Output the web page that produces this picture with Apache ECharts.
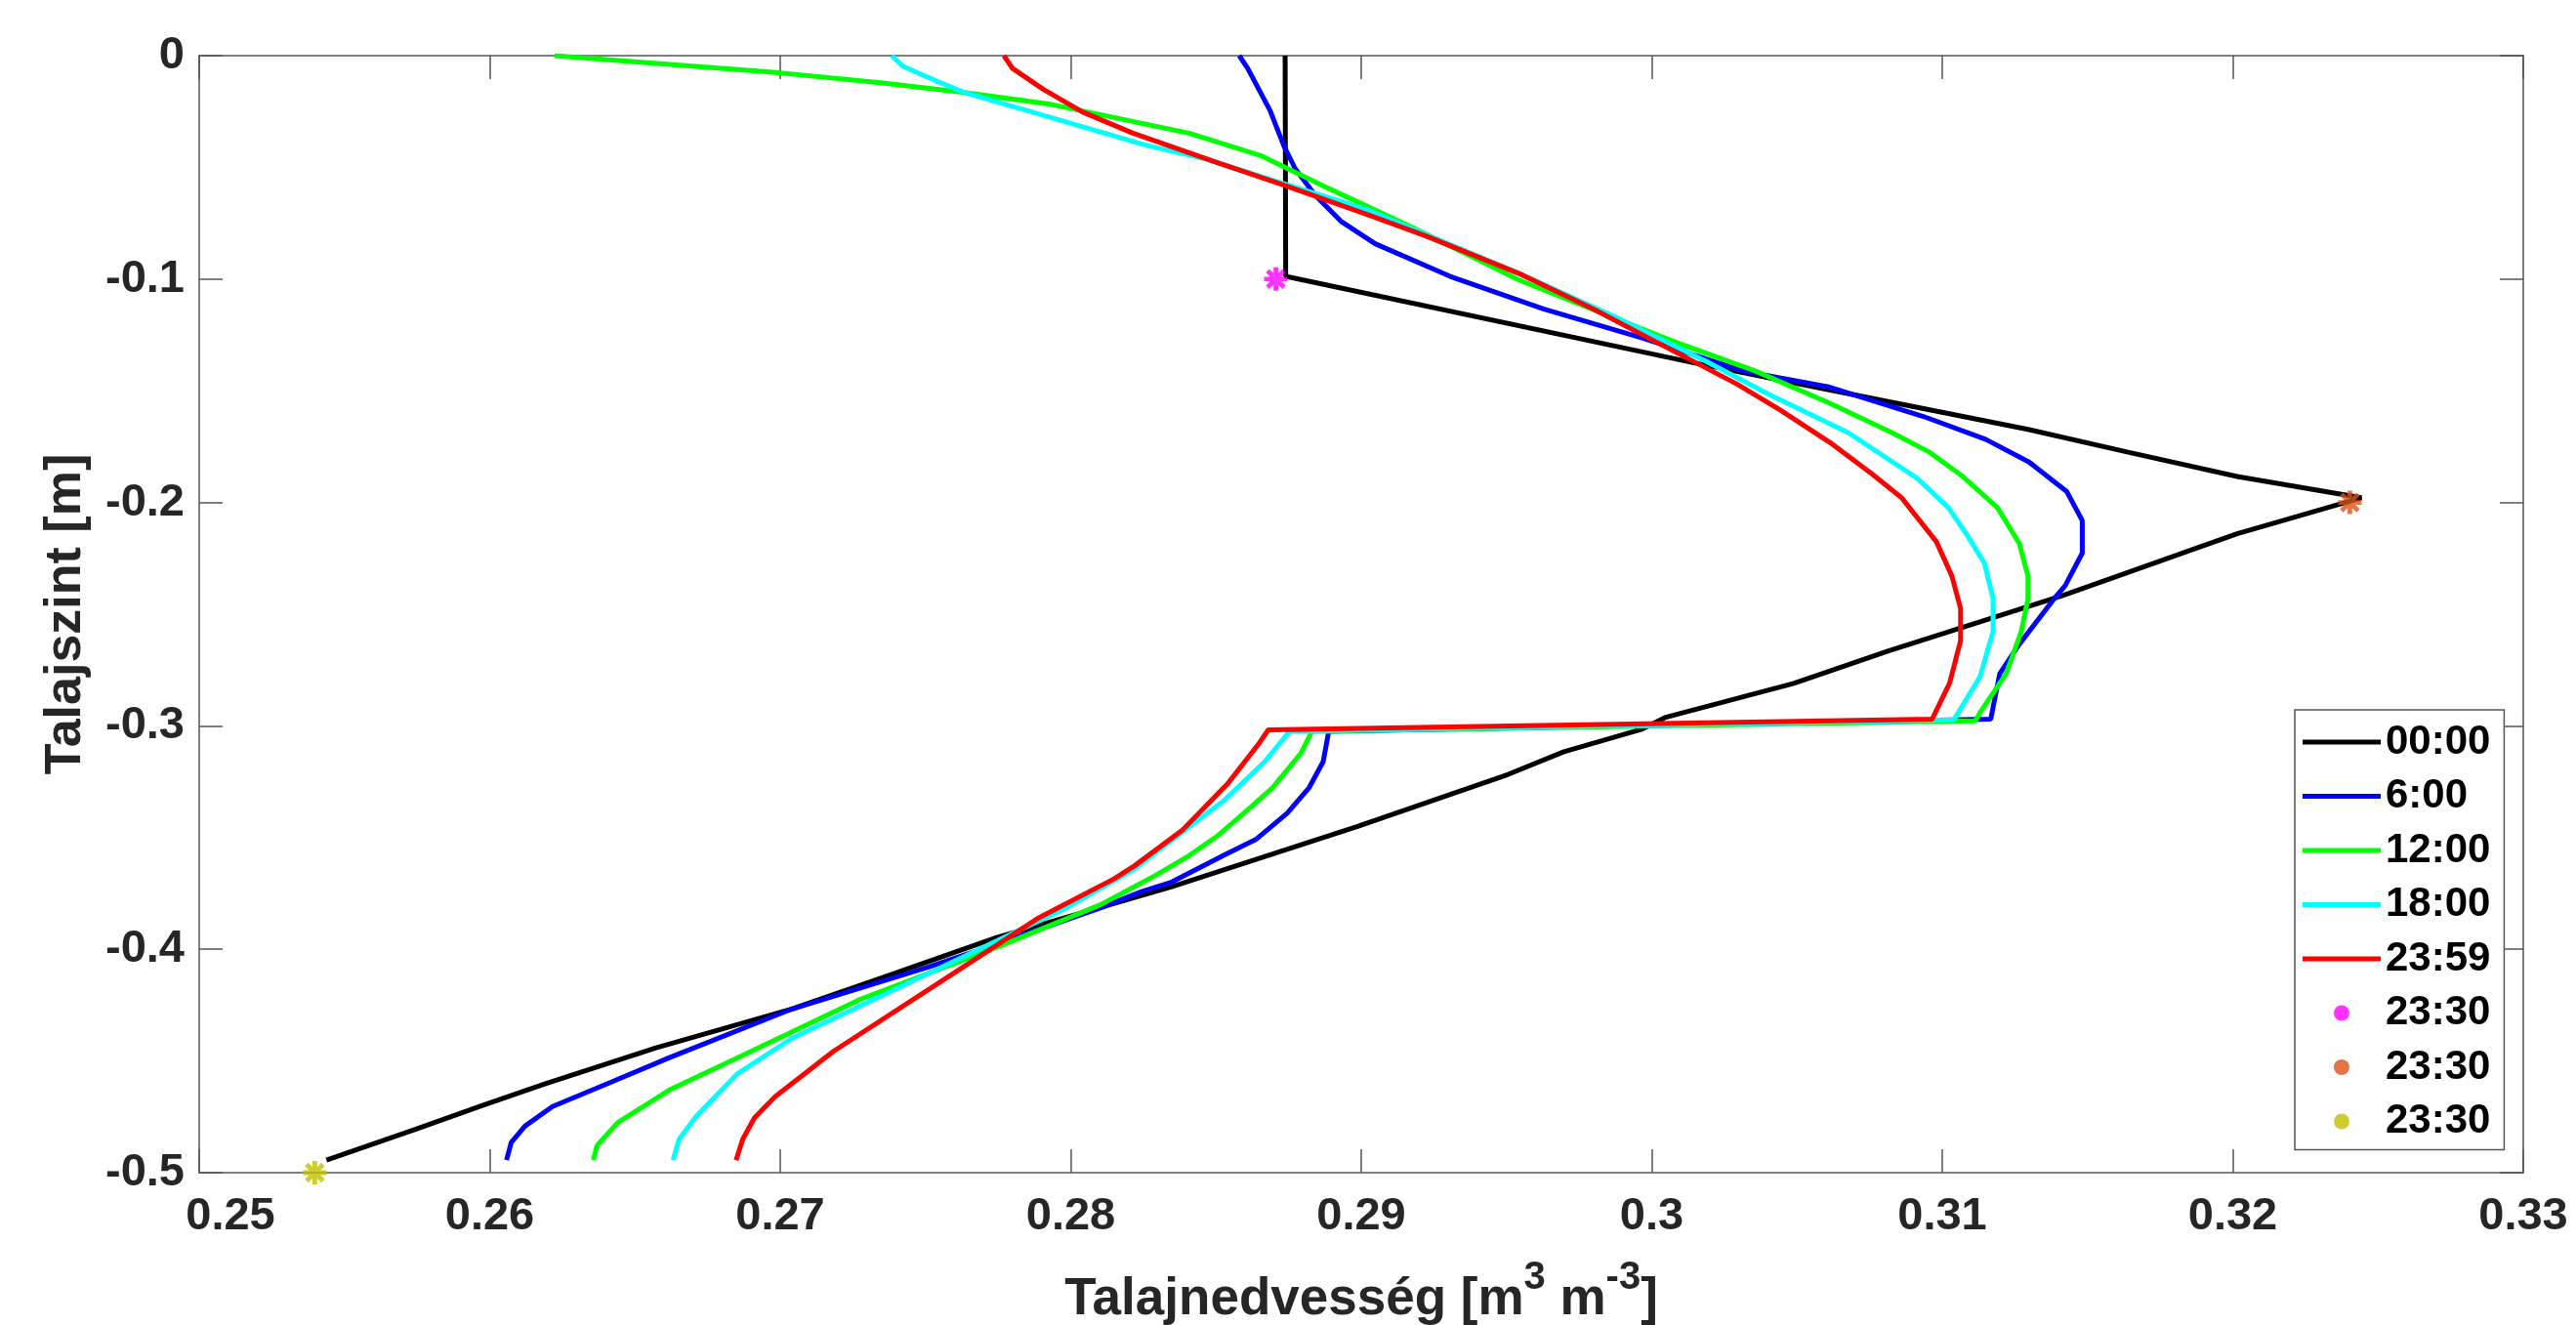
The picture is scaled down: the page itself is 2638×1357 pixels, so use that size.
<!DOCTYPE html>
<html>
<head>
<meta charset="utf-8">
<script src="https://cdn.jsdelivr.net/npm/echarts@6/dist/echarts.min.js"></script>
<style>html,body{margin:0;padding:0;background:#fff;}#c{width:2638px;height:1357px;}</style>
</head>
<body>
<div id="c"></div>
<script>
// ---- data (soil moisture [m3 m-3] vs depth [m]) ----
const seriesNames = ['00:00', '6:00', '12:00', '18:00', '23:59', '23:30', '23:30 ', '23:30  '];
const xTickLabels = ['0.25', '0.26', '0.27', '0.28', '0.29', '0.3', '0.31', '0.32', '0.33'];
const yTickLabels = ['-0.5', '-0.4', '-0.3', '-0.2', '-0.1', '0'];

const theta0000 = [0.28738, 0.28740, 0.30142, 0.30560, 0.31295, 0.31640, 0.32015, 0.32443, 0.32015, 0.31415, 0.30815, 0.30489, 0.30045, 0.29968, 0.29698, 0.29504, 0.28985, 0.28348, 0.27748, 0.27348, 0.27040, 0.26570, 0.26192, 0.25980, 0.25744, 0.25438];
const depth0000 = [0, -0.0988, -0.1374, -0.1483, -0.1673, -0.1775, -0.1884, -0.1979, -0.2140, -0.2416, -0.2664, -0.2810, -0.2963, -0.3014, -0.3116, -0.3218, -0.3451, -0.3720, -0.3946, -0.4129, -0.4267, -0.4442, -0.4602, -0.4697, -0.4806, -0.4944];

const theta0600 = [0.28580, 0.28609, 0.28686, 0.28734, 0.28773, 0.28841, 0.28930, 0.29048, 0.29306, 0.29627, 0.29970, 0.30313, 0.30613, 0.30935, 0.31149, 0.31299, 0.31428, 0.31482, 0.31482, 0.31423, 0.31385, 0.31265, 0.31198, 0.31167, 0.28888, 0.28869, 0.28821, 0.28745, 0.28637, 0.28533, 0.28348, 0.28244, 0.28102, 0.27748, 0.27513, 0.27041, 0.26617, 0.26404, 0.26216, 0.26121, 0.26074, 0.26058];
const depth0600 = [0, -0.0056, -0.0245, -0.0405, -0.0507, -0.0624, -0.0741, -0.0842, -0.0988, -0.1134, -0.1265, -0.1411, -0.1484, -0.1615, -0.1717, -0.1819, -0.1950, -0.2081, -0.2227, -0.2373, -0.2431, -0.2635, -0.2766, -0.2970, -0.3025, -0.3160, -0.3276, -0.3391, -0.3509, -0.3575, -0.3699, -0.3742, -0.3815, -0.3976, -0.4078, -0.4267, -0.4486, -0.4602, -0.4704, -0.4792, -0.4865, -0.4944];

const theta1200 = [0.26223, 0.26998, 0.27346, 0.27635, 0.27924, 0.28407, 0.28657, 0.28889, 0.29177, 0.29541, 0.29820, 0.30077, 0.30356, 0.30613, 0.30828, 0.30956, 0.31064, 0.31190, 0.31265, 0.31295, 0.31295, 0.31272, 0.31220, 0.31130, 0.31114, 0.28830, 0.28792, 0.28695, 0.28620, 0.28503, 0.28406, 0.28291, 0.28102, 0.27748, 0.27277, 0.26852, 0.26617, 0.26440, 0.26369, 0.26357];
const depth1200 = [0, -0.0077, -0.0121, -0.0165, -0.0216, -0.0347, -0.0449, -0.0595, -0.0769, -0.1003, -0.1148, -0.1280, -0.1411, -0.1556, -0.1688, -0.1775, -0.1877, -0.2023, -0.2183, -0.2329, -0.2431, -0.2577, -0.2766, -0.2941, -0.2977, -0.3025, -0.3123, -0.3276, -0.3364, -0.3495, -0.3582, -0.3670, -0.3801, -0.3990, -0.4223, -0.4486, -0.4631, -0.4777, -0.4879, -0.4944];

const theta1800 = [0.27384, 0.27423, 0.27538, 0.27635, 0.27828, 0.28252, 0.28465, 0.28696, 0.29020, 0.29220, 0.29541, 0.29863, 0.30185, 0.30399, 0.30677, 0.30914, 0.31021, 0.31085, 0.31145, 0.31175, 0.31175, 0.31130, 0.31055, 0.31040, 0.28753, 0.28668, 0.28527, 0.28409, 0.28220, 0.27984, 0.27748, 0.27395, 0.27041, 0.26852, 0.26711, 0.26652, 0.26631];
const depth1800 = [0, -0.0048, -0.0114, -0.0165, -0.0238, -0.0398, -0.0463, -0.0558, -0.0689, -0.0799, -0.0974, -0.1163, -0.1367, -0.1513, -0.1688, -0.1892, -0.2023, -0.2145, -0.2271, -0.2431, -0.2577, -0.2780, -0.2941, -0.2973, -0.3025, -0.3160, -0.3335, -0.3451, -0.3640, -0.3815, -0.3961, -0.4179, -0.4398, -0.4558, -0.4748, -0.4850, -0.4944];

const theta2359 = [0.27770, 0.27799, 0.27905, 0.28040, 0.28214, 0.28503, 0.28734, 0.29020, 0.29220, 0.29541, 0.29799, 0.30013, 0.30292, 0.30442, 0.30613, 0.30763, 0.30860, 0.30980, 0.31033, 0.31063, 0.31063, 0.31025, 0.30965, 0.28680, 0.28644, 0.28539, 0.28385, 0.28220, 0.28150, 0.27890, 0.27701, 0.27183, 0.26982, 0.26911, 0.26871, 0.26848];
const depth2359 = [0, -0.0056, -0.0150, -0.0252, -0.0347, -0.0478, -0.0580, -0.0711, -0.0806, -0.0974, -0.1134, -0.1280, -0.1469, -0.1586, -0.1731, -0.1877, -0.1979, -0.2176, -0.2329, -0.2474, -0.2620, -0.2810, -0.2970, -0.3018, -0.3086, -0.3261, -0.3466, -0.3626, -0.3684, -0.3859, -0.4019, -0.4457, -0.4660, -0.4755, -0.4850, -0.4944];

// measured points at 23:30 (moisture, depth)
const obs10cm = [0.28706, -0.1];
const obs20cm = [0.32403, -0.2];
const obs50cm = [0.25398, -0.5];

const lineColors = ['#000000', '#0000ff', '#00ff00', '#00ffff', '#ff0000'];
const starColors = ['#ff00ff', '#d95319', '#bfbf00'];
// --------------------------------------------------------------------------

const FONT = 'Liberation Sans, Arial, Helvetica, sans-serif';
const zip = (xs, ys) => xs.map((x, i) => [x, ys[i]]);
const lines = [
  zip(theta0000, depth0000), zip(theta0600, depth0600), zip(theta1200, depth1200),
  zip(theta1800, depth1800), zip(theta2359, depth2359)
];
const stars = [obs10cm, obs20cm, obs50cm];

const starPath = 'path://M-0.2,-1L0.2,-1L0.2,1L-0.2,1Z' +
  'M-1,-0.2L1,-0.2L1,0.2L-1,0.2Z' +
  'M-0.566,-0.849L0.849,0.566L0.566,0.849L-0.849,-0.566Z' +
  'M-0.849,0.566L0.566,-0.849L0.849,-0.566L-0.566,0.849Z';
const legendLineIcon = 'path://M0,0L80,0L80,5L0,5Z';

const axisCol = '#555555';
const tickCommon = { show: true, inside: true, length: 24, lineStyle: { color: axisCol, width: 1.5 } };
const lineCommon = { show: true, onZero: false, lineStyle: { color: axisCol, width: 1.5 } };

const series = [];
lines.forEach((d, i) => {
  series.push({
    name: seriesNames[i], type: 'line', data: d, showSymbol: false, symbol: 'none',
    lineStyle: { color: lineColors[i], width: 5 }, itemStyle: { color: lineColors[i] },
    animation: false, z: 2 + i
  });
});
stars.forEach((p, i) => {
  series.push({
    name: seriesNames[5 + i], type: 'scatter', data: [p], symbol: starPath, symbolSize: 24,
    itemStyle: { color: starColors[i] }, animation: false, z: 10
  });
});

const xLab = v => {
  const s = xTickLabels.find(t => Math.abs(parseFloat(t) - v) < 1e-6) || '';
  return s === xTickLabels[0] ? '{first|' + s + '}' : s;
};
const yLab = v => yTickLabels.find(t => Math.abs(parseFloat(t) - v) < 1e-6) || '';

const chart = echarts.init(document.getElementById('c'), null, { renderer: 'canvas' });
chart.setOption({
  backgroundColor: '#ffffff',
  animation: false,
  grid: { left: 204, right: 54, top: 57, bottom: 156, containLabel: false, outerBoundsMode: 'none' },
  xAxis: [{
    type: 'value', min: 0.25, max: 0.33, interval: 0.01, position: 'bottom',
    axisLine: lineCommon, axisTick: tickCommon, splitLine: { show: false },
    axisLabel: {
      formatter: xLab, margin: 22, fontSize: 47, fontWeight: 'bold', color: '#262626', fontFamily: FONT,
      rich: { first: { fontSize: 47, fontWeight: 'bold', color: '#262626', fontFamily: FONT, padding: [0, 0, 0, 64] } }
    },
    name: '{t|Talajnedvesség [m}{s|3}{t| m}{s|-3}{t|]}',
    nameLocation: 'middle', nameGap: 88,
    nameTextStyle: {
      rich: {
        t: { fontSize: 53, fontWeight: 'bold', color: '#262626', fontFamily: FONT, verticalAlign: 'middle' },
        s: { fontSize: 40, fontWeight: 'bold', color: '#262626', fontFamily: FONT, verticalAlign: 'middle', padding: [0, 0, 44, 0] }
      }
    }
  }, {
    type: 'value', min: 0.25, max: 0.33, interval: 0.01, position: 'top',
    axisLine: lineCommon, axisTick: tickCommon, axisLabel: { show: false }, splitLine: { show: false }
  }],
  yAxis: [{
    type: 'value', min: -0.5, max: 0, interval: 0.1, position: 'left',
    axisLine: lineCommon, axisTick: tickCommon, splitLine: { show: false },
    axisLabel: { formatter: yLab, margin: 15, fontSize: 47, fontWeight: 'bold', color: '#262626', fontFamily: FONT },
    name: 'Talajszint [m]', nameLocation: 'middle', nameGap: 110, nameRotate: 90,
    nameTextStyle: { fontSize: 52, fontWeight: 'bold', color: '#262626', fontFamily: FONT }
  }, {
    type: 'value', min: -0.5, max: 0, interval: 0.1, position: 'right',
    axisLine: lineCommon, axisTick: tickCommon, axisLabel: { show: false }, splitLine: { show: false }
  }],
  legend: {
    orient: 'vertical', left: 2350, top: 727,
    padding: [12, 14, 8, 8], itemGap: 13.5, itemWidth: 80, itemHeight: 16,
    backgroundColor: '#ffffff', borderColor: axisCol, borderWidth: 1.5, borderRadius: 0,
    textStyle: { fontSize: 42, fontWeight: 'bold', color: '#000000', fontFamily: FONT, lineHeight: 42 },
    formatter: n => n.trim(),
    selectedMode: false,
    symbolKeepAspect: true,
    data: seriesNames.map((n, i) => i < 5 ? { name: n, icon: legendLineIcon } : { name: n, icon: 'circle' })
  },
  series: series
});
</script>
</body>
</html>
